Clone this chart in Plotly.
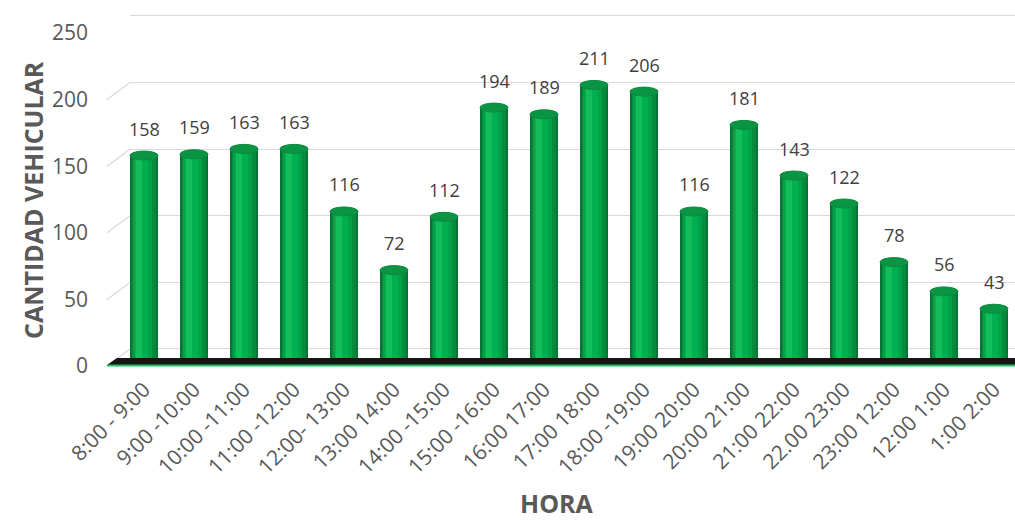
import plotly.graph_objects as go

# Vehicle count per hourly interval
horas = ["8:00 - 9:00", "9:00 -10:00", "10:00 -11:00", "11:00 -12:00", "12:00- 13:00",
         "13:00 14:00", "14:00 -15:00", "15:00 -16:00", "16:00 17:00", "17:00 18:00",
         "18:00 -19:00", "19:00 20:00", "20:00 21:00", "21:00 22:00", "22.00 23:00",
         "23:00 12:00", "12:00 1:00", "1:00 2:00"]
cantidad = [158, 159, 163, 163, 116, 72, 112, 194, 189, 211, 206, 116, 181, 143, 122, 78, 56, 43]
y_ticks = [0, 50, 100, 150, 200, 250]

W, H = 1015, 521
TOP, BASE = 8, 366             # pixel rows of paper top and the front zero line
PAPER_H = BASE - TOP
X_LEFT, X_RIGHT = 119, 1014    # plot x extent
BACK_DX, BACK_DY = 23, 17      # depth offset of the back wall
UNIT = (BASE - 33) / 250.0     # px per vehicle

def py(px):
    return (BASE - px) / PAPER_H

def px_x(px):
    return px / W

n = len(horas)
idx = list(range(n))
BW = 0.56

fig = go.Figure()

# back wall grid lives on the first subplot so it is drawn behind the columns
fig.add_trace(go.Scatter(x=[0], y=[0], mode="markers", marker=dict(opacity=0),
                         showlegend=False, hoverinfo="skip", xaxis="x", yaxis="y"))

# cylinder shading: stacked overlays of decreasing width
layers = [
    (0.00, 0.56, "#0a7434"),
    (0.03, 0.48, "#078a3d"),
    (0.06, 0.38, "#02a047"),
    (0.09, 0.26, "#00b050"),
    (0.12, 0.12, "#12bd5a"),
]
for inset, w, col in layers:
    fig.add_trace(go.Bar(
        x=idx, y=cantidad, width=w, offset=-BW / 2 + inset,
        marker=dict(color=col, line=dict(width=0)),
        hoverinfo="skip", showlegend=False, xaxis="x2", yaxis="y2",
    ))

shapes = []
# left wall diagonals linking front ticks to back grid lines
for v in y_ticks:
    shapes.append(dict(type="line", xref="paper", yref="y2",
                       x0=px_x(X_LEFT - 12), y0=v, x1=px_x(X_LEFT - 12 + BACK_DX), y1=v + BACK_DY / UNIT,
                       line=dict(color="#d9d9d9", width=1.3), layer="above"))

# floor slab
shapes.append(dict(type="path", xref="paper", yref="paper",
                   path=f"M {px_x(107)} {py(365)} L {px_x(117)} {py(358)} L {px_x(1015)} {py(358)} "
                        f"L {px_x(1015)} {py(365)} Z",
                   fillcolor="#151515", line=dict(width=0), layer="above"))
shapes.append(dict(type="line", xref="paper", yref="paper",
                   x0=px_x(107), y0=py(365.5), x1=px_x(1015), y1=py(365.5),
                   line=dict(color="#1fc060", width=2), layer="above"))

# elliptical tops of the cylinders
cap_h = 9 / UNIT
for i, v in zip(idx, cantidad):
    shapes.append(dict(type="circle", xref="x2", yref="y2",
                       x0=i - BW / 2, x1=i + BW / 2, y0=v - cap_h / 2, y1=v + cap_h / 2,
                       fillcolor="#0b9444", line=dict(color="#0a8a3e", width=1), layer="above"))

annotations = []
for i, v in zip(idx, cantidad):
    annotations.append(dict(x=i, y=v, xref="x2", yref="y2", text=str(v), showarrow=False,
                            yshift=27, font=dict(family="Open Sans", size=18, color="#404040")))

annotations.append(dict(text="<b>CANTIDAD VEHICULAR</b>", xref="paper", yref="paper",
                        x=px_x(14), y=py(200), textangle=-90, showarrow=False,
                        font=dict(family="Open Sans", size=25, color="#595959")))
annotations.append(dict(text="<b>HORA</b>", xref="paper", yref="paper",
                        x=px_x(557), y=py(503), showarrow=False, yanchor="middle",
                        font=dict(family="Open Sans", size=25, color="#595959")))

G_LO, G_HI = -1, 251
fig.update_layout(
    width=W, height=H,
    margin=dict(l=0, r=0, t=TOP, b=H - BASE),
    paper_bgcolor="white", plot_bgcolor="rgba(0,0,0,0)",
    barmode="overlay", bargap=0,
    shapes=shapes, annotations=annotations,
    xaxis=dict(domain=[px_x(X_LEFT - 12 + BACK_DX), 1], range=[0, 1], visible=False,
               anchor="y", fixedrange=True),
    yaxis=dict(domain=[py(BASE - BACK_DY - G_LO * UNIT), py(33 - BACK_DY - (G_HI - 250) * UNIT)],
               range=[G_LO, G_HI],
               anchor="x", tickvals=y_ticks, showticklabels=False, ticks="",
               showgrid=True, gridcolor="#d9d9d9", gridwidth=1.3, zeroline=False,
               showline=False),
    xaxis2=dict(domain=[px_x(X_LEFT), px_x(X_RIGHT)], range=[-0.5, 17.4], anchor="y2",
                tickmode="array", tickvals=idx, ticktext=horas, tickangle=-45,
                ticklabelstandoff=6,
                tickfont=dict(family="Open Sans", size=21, color="#595959"),
                showgrid=False, zeroline=False, showline=False, ticks="", automargin=False),
    yaxis2=dict(domain=[0, py(33)], range=[0, 250], anchor="free", position=px_x(88),
                tickvals=y_ticks, tickfont=dict(family="Open Sans", size=21, color="#595959"),
                showgrid=False, zeroline=False, showline=False, ticks="", automargin=False),
)

fig.write_html("out.html")
